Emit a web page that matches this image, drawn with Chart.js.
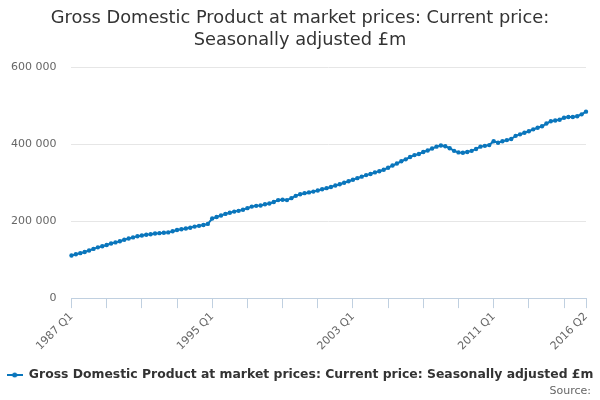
<!DOCTYPE html>
<html>
<head>
<meta charset="utf-8">
<script src="https://cdn.jsdelivr.net/npm/chart.js@4.4.0/dist/chart.umd.min.js"></script>
<style>
  html, body { margin: 0; padding: 0; background: #fff; }
  #wrap { width: 600px; height: 400px; position: relative; }
</style>
</head>
<body>
<div id="wrap"><canvas id="chart"></canvas></div>
<script>
const chartTitle = ['Gross Domestic Product at market prices: Current price:', 'Seasonally adjusted £m'];
const seriesName = 'Gross Domestic Product at market prices: Current price: Seasonally adjusted £m';
const sourceText = 'Source:';

// quarters 1987 Q1 .. 2016 Q2
const quarters = [];
for (let y = 1987; y <= 2016; y++) {
    for (let q = 1; q <= 4; q++) {
        if (y === 2016 && q > 2) break;
        quarters.push(y + ' Q' + q);
    }
}

// £m
const gdp = [
    111000, 114000, 117000, 120000, 124000, 128000, 132000, 135000,   // 1987-88
    138000, 142000, 145000, 148000, 152000, 155000, 158000, 161000,   // 1989-90
    163000, 165000, 166000, 168000, 169000, 170000, 171000, 174000,   // 1991-92
    177000, 179000, 181000, 183000, 186000, 188000, 190000, 193000,   // 1993-94
    207000, 211000, 215000, 219000, 222000, 225000, 227000, 230000,   // 1995-96
    234000, 238000, 240000, 241000, 244000, 246000, 250000, 255000,   // 1997-98
    256000, 255000, 260000, 266000, 270000, 273000, 275000, 277000,   // 1999-00
    280000, 283000, 286000, 289000, 293000, 296000, 300000, 304000,   // 2001-02
    308000, 312000, 316000, 320000, 323000, 327000, 330000, 334000,   // 2003-04
    339000, 345000, 350000, 356000, 361000, 367000, 372000, 375000,   // 2005-06
    380000, 384000, 389000, 394000, 397000, 395000, 390000, 383000,   // 2007-08
    379000, 378000, 380000, 383000, 388000, 394000, 396000, 398000,   // 2009-10
    408000, 404000, 408000, 411000, 414000, 422000, 426000, 430000,   // 2011-12
    434000, 439000, 443000, 447000, 454000, 460000, 462000, 464000,   // 2013-14
    469000, 471000, 471000, 473000, 478000, 485000                    // 2015-16 Q2
];

const xTickLabels = ['1987 Q1', '1995 Q1', '2003 Q1', '2011 Q1', '2016 Q2'];
const xTickStep = 8;   // tick mark every 2 years
const yTicks = [0, 200000, 400000, 600000];

const lineColor = '#0a76bc';
const yLabelGap = 15;
const leftSpace = 11;   // blank strip left of the y labels
const rightSpace = 14;  // blank strip right of the plot

function fmt(v) {
    return String(v).replace(/\B(?=(\d{3})+(?!\d))/g, ' ');
}

// legend symbol: short line with a dot
const sym = document.createElement('canvas');
sym.width = 16; sym.height = 8;
const sctx = sym.getContext('2d');
sctx.strokeStyle = lineColor;
sctx.lineWidth = 2;
sctx.beginPath(); sctx.moveTo(0, 4); sctx.lineTo(16, 4); sctx.stroke();
sctx.fillStyle = lineColor;
sctx.beginPath(); sctx.arc(8, 4, 2.5, 0, Math.PI * 2); sctx.fill();

Chart.defaults.font.family = '"DejaVu Sans", Verdana, sans-serif';
Chart.defaults.color = '#666';

new Chart(document.getElementById('chart'), {
    type: 'line',
    data: {
        labels: quarters,
        datasets: [{
            label: seriesName,
            data: gdp,
            borderColor: lineColor,
            backgroundColor: lineColor,
            borderWidth: 2,
            pointRadius: 2.2,
            pointBorderWidth: 0,
            pointStyle: 'circle',
            tension: 0
        }]
    },
    options: {
        responsive: true,
        maintainAspectRatio: false,
        animation: false,
        // legend is as wide as the canvas, so side space comes from the axes
        layout: { padding: { left: 0, right: 0, top: 0, bottom: 2.4 } },
        plugins: {
            title: {
                display: true,
                text: chartTitle,
                color: '#333',
                font: { size: 17.8, weight: 'normal', lineHeight: 1.22 },
                padding: { top: 8, bottom: 16 }
            },
            subtitle: {
                display: true,
                text: sourceText + '\u2002 ',
                position: 'bottom',
                align: 'end',
                color: '#666',
                font: { size: 11, weight: 'normal' },
                padding: { top: -6.8, bottom: 0 }
            },
            legend: {
                position: 'bottom',
                labels: {
                    color: '#333',
                    font: { size: 12.4, weight: 'bold' },
                    usePointStyle: true,
                    pointStyle: sym,
                    pointStyleWidth: 16,
                    padding: 14
                }
            },
            tooltip: { enabled: false }
        },
        scales: {
            x: {
                grid: {
                    drawOnChartArea: false,
                    drawTicks: true,
                    tickLength: 10,
                    color: '#c0d0e0'
                },
                border: { color: '#c0d0e0', width: 1 },
                afterBuildTicks: (scale) => {
                    const t = [];
                    for (let i = 0; i < quarters.length; i++) {
                        if (i % xTickStep === 0 || i === quarters.length - 1) t.push({ value: i });
                    }
                    scale.ticks = t;
                },
                afterFit: (scale) => { scale.paddingRight = rightSpace; },
                ticks: {
                    autoSkip: false,
                    maxRotation: 45,
                    minRotation: 45,
                    padding: 2,
                    color: '#666',
                    font: { size: 11 },
                    callback: function (value) {
                        const lab = quarters[value];
                        return xTickLabels.includes(lab) ? lab : '';
                    }
                }
            },
            y: {
                min: 0,
                max: 600000,
                afterBuildTicks: (scale) => {
                    scale.ticks = yTicks.map(v => ({ value: v }));
                },
                // chart.js counts the tick padding twice for the axis width
                afterFit: (scale) => { scale.width = scale.width - yLabelGap + leftSpace; },
                grid: { color: '#e6e6e6', drawTicks: false },
                border: { display: false },
                ticks: {
                    padding: yLabelGap,
                    color: '#666',
                    font: { size: 11 },
                    callback: (v) => fmt(v)
                }
            }
        }
    }
});
</script>
</body>
</html>
